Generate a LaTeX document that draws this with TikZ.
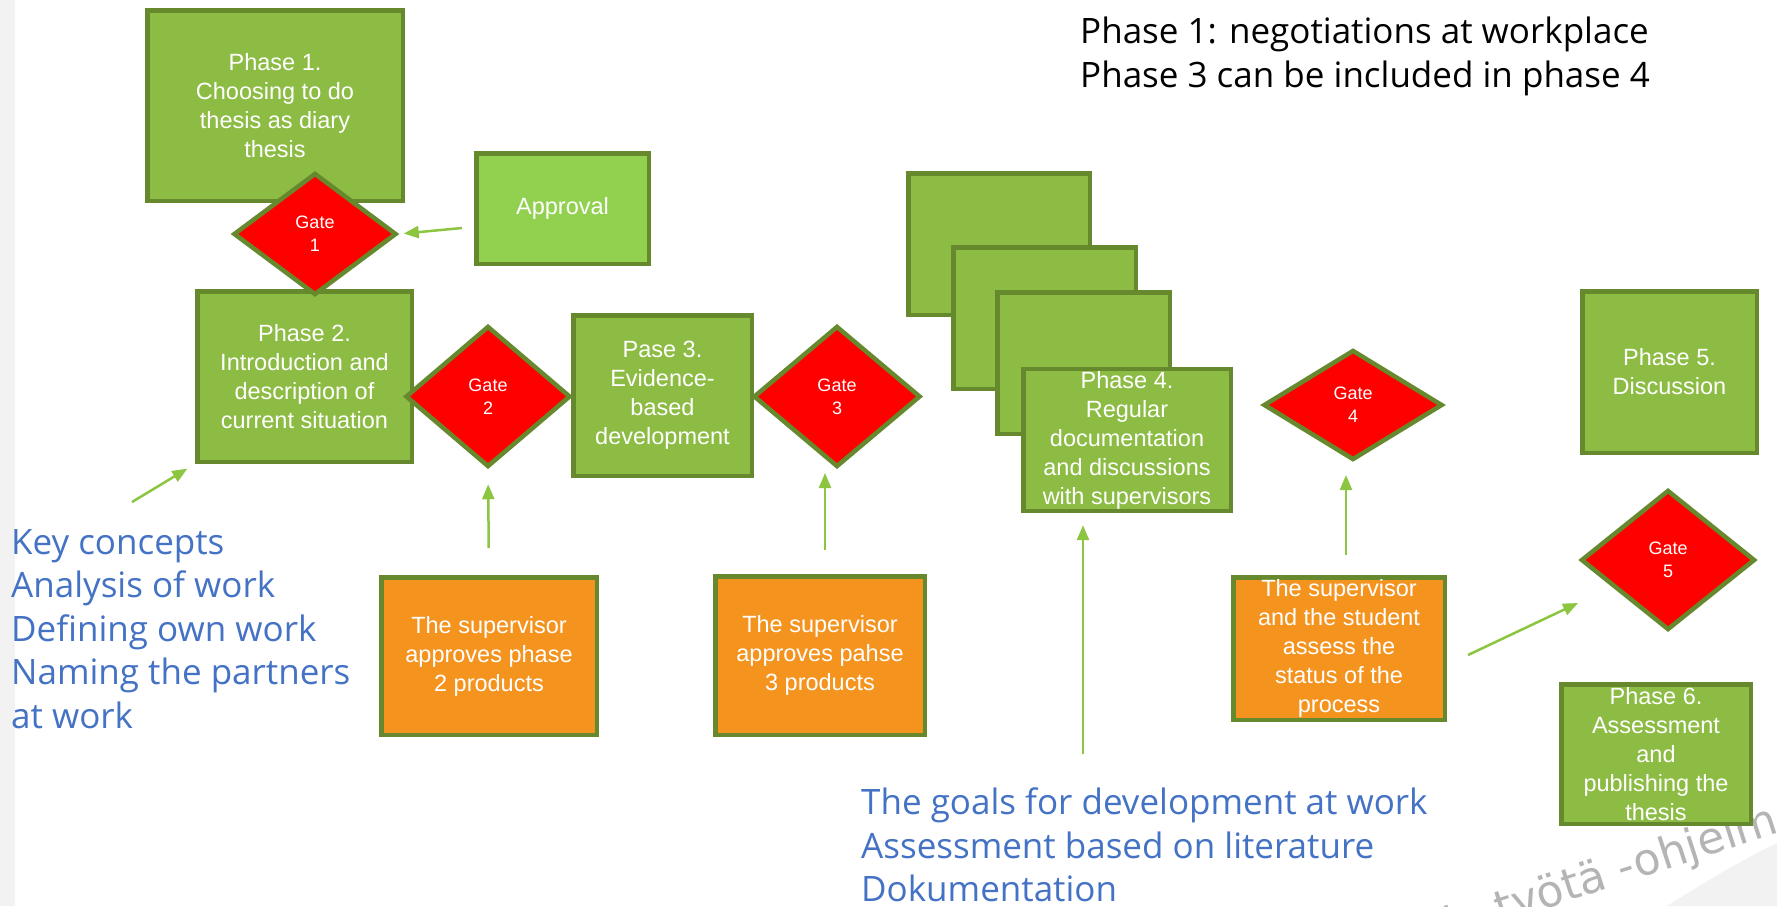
\documentclass[tikz,border=0pt]{standalone}
\usepackage{fontspec}
\setmainfont{Liberation Sans}
\newfontfamily\handfont{Open Sans}
\newfontfamily\markfont{DejaVu Sans}
\usetikzlibrary{shapes.geometric,arrows.meta,calc}

\definecolor{boxgreen}{HTML}{8DBC44}
\definecolor{lightgreen}{HTML}{92D050}
\definecolor{edgegreen}{HTML}{66892E}
\definecolor{gatered}{HTML}{FF0000}
\definecolor{boxorange}{HTML}{F5931F}
\definecolor{arrowgreen}{HTML}{8CC540}
\definecolor{noteblue}{HTML}{4472C4}
\definecolor{stripgray}{HTML}{F2F2F2}
\definecolor{markgray}{HTML}{B4B4B4}

\begin{document}
\begin{tikzpicture}[x=1pt,y=-1pt,
  box/.style={rectangle, draw=edgegreen, line width=4.5pt, fill=boxgreen,
    text=white, align=center, inner sep=2pt,
    font=\fontsize{23.5}{29}\selectfont},
  approvalbox/.style={box, fill=lightgreen},
  taskbox/.style={box, fill=boxorange},
  gate/.style={diamond, draw=edgegreen, line width=4.5pt, fill=gatered,
    text=white, align=center, inner sep=0pt,
    font=\fontsize{18}{23}\selectfont},
  link/.style={draw=arrowgreen, line width=2.5pt,
    -{Triangle[length=15pt,width=12pt]}},
  note/.style={text=noteblue, align=left, inner sep=0pt, anchor=north west,
    font=\handfont\fontsize{35}{43.5}\selectfont},
]
\useasboundingbox (0,0) rectangle (1777,906);
\fill[white] (0,0) rectangle (1777,906);
\fill[stripgray] (0,0) rectangle (15,906);

% faint programme mark in the lower right corner
\begin{scope}
  \clip (0,0) rectangle (1777,906);
  \fill[stripgray] (1667,906) .. controls (1705,882) and (1742,860) .. (1777,843)
    -- (1777,906) -- cycle;
  \node[anchor=base west, rotate=18, inner sep=0pt, text=markgray,
    font=\markfont\fontsize{44}{44}\selectfont] (mark) at (1450,940)
    {ja työtä -ohjelma};
\end{scope}

% phase 4 and its stacked iterations
\node[box, minimum width=181.5, minimum height=141.5] (stacka) at (999,244) {};
\node[box, minimum width=182.5, minimum height=141.5] (stackb) at (1044.5,318) {};
\node[box, minimum width=172.5, minimum height=141.5] (stackc) at (1083.5,363) {};
\node[box, minimum width=207.5, minimum height=141.5] (p4) at (1127,440)
  {Phase 4.\\Regular\\documentation\\and discussions\\with supervisors};

% phases
\node[box, minimum width=255.5, minimum height=190.5] (p1) at (275,105.5)
  {Phase 1.\\Choosing to do\\thesis as diary\\thesis};
\node[approvalbox, minimum width=172.5, minimum height=110.5] (appr) at (562.5,208.5)
  {Approval};
\node[box, minimum width=214.5, minimum height=170.5] (p2) at (304.5,376.5)
  {Phase 2.\\Introduction and\\description of\\current situation};
\node[box, minimum width=178.5, minimum height=160.5] (p3) at (662.5,395.5)
  {Pase 3.\\Evidence-\\based\\development};
\node[box, minimum width=174.5, minimum height=161.5] (p5) at (1669.5,372)
  {Phase 5.\\Discussion};
\node[box, minimum width=189.5, minimum height=139.5] (p6) at (1656,754)
  {Phase 6.\\Assessment\\and\\publishing the\\thesis};

% supervisor tasks
\node[taskbox, minimum width=215.5, minimum height=157.5] (o1) at (489,656)
  {The supervisor\\approves phase\\2 products};
\node[taskbox, minimum width=209.5, minimum height=158.5] (o2) at (820,655.5)
  {The supervisor\\approves pahse\\3 products};
\node[taskbox, minimum width=211.5, minimum height=142.5] (o3) at (1339,648.5)
  {The supervisor\\and the student\\assess the\\status of the\\process};

% gates
\node[gate, minimum width=163, minimum height=122] (g1) at (315,234) {Gate\\1};
\node[gate, minimum width=165, minimum height=141] (g2) at (488,396.5) {Gate\\2};
\node[gate, minimum width=167, minimum height=141] (g3) at (837,396.5) {Gate\\3};
\node[gate, minimum width=179, minimum height=110] (g4) at (1353,405) {Gate\\4};
\node[gate, minimum width=174, minimum height=140] (g5) at (1668,560) {Gate\\5};

% notes
\node[note] (keys) at (11,529)
  {Key concepts\\Analysis of work\\Defining own work\\Naming the partners\\at work};
\node[note] (goals) at (861,788)
  {The goals for development at work\\Assessment based on literature\\Dokumentation};
\node[note, text=black] (remark) at (1080,17)
  {Phase 1: negotiations at workplace\\Phase 3 can be included in phase 4};

% connectors
\coordinate (apprtail) at (462,228);
\coordinate (keystail) at (132,502);
\coordinate (goalstail) at (1083,754);
\coordinate (o2tail) at (825,550);
\coordinate (g3tip) at (825,473);
\coordinate (o3tail) at (1468,655);
\coordinate (g5tip) at (1578,603);

\draw[link, shorten >=5pt] (apprtail) -- (g1.east);
\draw[link, shorten >=9pt] (keystail) -- (p2.south west);
\draw[link, shorten <=27pt, shorten >=15pt] (o1.north) -- (g2.south);
\draw[link] (o2tail) -- (g3tip);
\draw[link, shorten >=12pt] (goalstail) -- (goalstail |- p4.south);
\draw[link, shorten >=15pt] (o3.north -| 1346,0) ++(0,-20) -- (1346,460);
\draw[link] (o3tail) -- (g5tip);
\end{tikzpicture}
\end{document}
